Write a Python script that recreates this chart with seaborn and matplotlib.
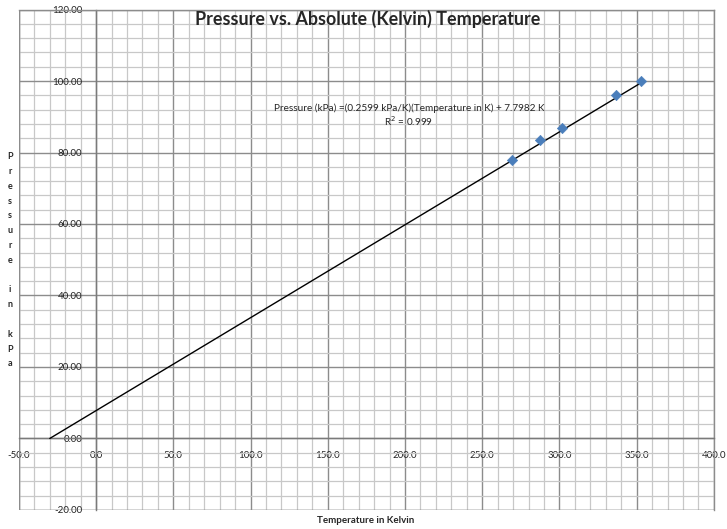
import numpy as np
import seaborn as sns
import matplotlib.pyplot as plt
from matplotlib.ticker import MultipleLocator, FormatStrFormatter

# Datos
temperature_k = [269.0, 287.5, 301.5, 336.5, 352.5]
pressure_kpa = [77.9, 83.4, 86.8, 96.1, 99.9]

# Linea de tendencia (ecuacion mostrada en el grafico)
slope = 0.2599
intercept = 7.7982
trend_x = [-30.0, 352.5]

x_ticks = [-50, 0, 50, 100, 150, 200, 250, 300, 350, 400]
y_ticks = [-20, 0, 20, 40, 60, 80, 100, 120]

sns.set_style('white')
plt.rcParams['font.family'] = ['Lato', 'DejaVu Sans']

fig = plt.figure(figsize=(7.27, 5.29), dpi=100)
ax = fig.add_axes([0.026, 0.036, 0.956, 0.946])

trend_y = [slope * t + intercept for t in trend_x]
sns.lineplot(x=trend_x, y=trend_y, color='black', linewidth=1.0, ax=ax, zorder=3)
sns.scatterplot(
    x=temperature_k,
    y=pressure_kpa,
    marker='D',
    s=28,
    color='#4a7ebb',
    edgecolor='#4a7ebb',
    ax=ax,
    zorder=4,
)

ax.set_xlim(-50, 400)
ax.set_ylim(-20, 120)
ax.set_xticks(x_ticks)
ax.set_yticks(y_ticks)
ax.xaxis.set_minor_locator(MultipleLocator(10))
ax.yaxis.set_minor_locator(MultipleLocator(4))
ax.xaxis.set_major_formatter(FormatStrFormatter('%.1f'))
ax.yaxis.set_major_formatter(FormatStrFormatter('%.2f'))

ax.grid(which='minor', color='#c8c8c8', linewidth=0.9)
ax.grid(which='major', color='#8c8c8c', linewidth=1.0)
ax.set_axisbelow(True)

for side in ['top', 'right']:
    ax.spines[side].set_color('#8c8c8c')
    ax.spines[side].set_linewidth(1.0)
ax.spines['left'].set_position(('data', 0))
ax.spines['bottom'].set_position(('data', 0))
for side in ['left', 'bottom']:
    ax.spines[side].set_color('#7a7a7a')
    ax.spines[side].set_linewidth(1.0)

ax.tick_params(axis='both', which='both', length=0, labelsize=7, colors='#222222')
ax.tick_params(axis='y', pad=10)
ax.tick_params(axis='x', pad=9)

# marco exterior en los limites
ax.axvline(-50, color='#8c8c8c', linewidth=1.0)
ax.axhline(-20, color='#8c8c8c', linewidth=1.0)

fig.text(0.506, 0.965, 'Pressure vs. Absolute (Kelvin) Temperature',
         ha='center', va='center', fontsize=12.9, fontweight='bold')

ax.text(0.561, 0.803, 'Pressure (kPa) =(0.2599 kPa/K)(Temperature in K) + 7.7982 K',
        transform=ax.transAxes, ha='center', va='center', fontsize=7.2)
ax.text(0.561, 0.777, 'R$^2$ = 0.999',
        transform=ax.transAxes, ha='center', va='center', fontsize=7.2)

fig.text(0.014, 0.508, '\n'.join('Pressure in kPa'),
         ha='center', va='center', fontsize=6.5, fontweight='bold',
         linespacing=1.83)
fig.text(0.503, 0.017, 'Temperature in Kelvin',
         ha='center', va='center', fontsize=7, fontweight='bold')

plt.savefig('out.png', dpi=100)
